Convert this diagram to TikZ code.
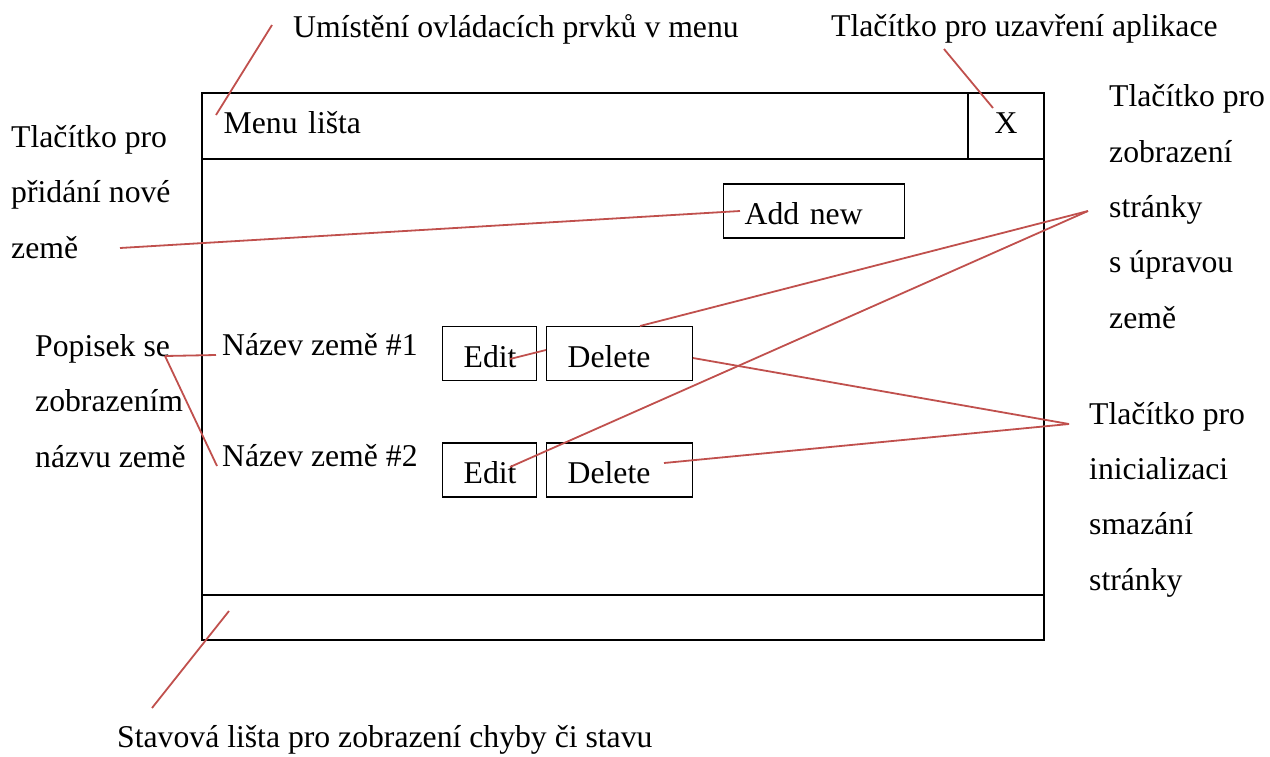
\documentclass[tikz,border=0pt]{standalone}
\usepackage{fontspec}
\setmainfont{Liberation Serif}
\definecolor{calloutred}{HTML}{C0504D}
\begin{document}
\begin{tikzpicture}[x=1pt,y=-1pt,
  every node/.style={font=\fontsize{31.7}{55.3}\selectfont, inner sep=0pt},
  lbl/.style={anchor=base west, align=left},
  frame/.style={draw, line width=1.4pt},
  btn/.style={frame, anchor=base west, inner xsep=21pt, inner ysep=0pt,
              text height=40.5pt, text depth=13.5pt, align=left},
  callout/.style={draw=calloutred, line width=1.8pt}]
\useasboundingbox (0,0) rectangle (1270,756);

% window
\node[frame, minimum width=842pt, minimum height=547pt] (win) at (623,366.5) {};
\node[frame, anchor=base west, inner xsep=21pt, text width=724pt,
      text height=40pt, text depth=26pt, align=left] (menu) at (202,133) {Menu lišta};
\node[frame, anchor=base, minimum width=76pt, text height=40pt, text depth=26pt] (close) at (1006,133) {X};
\node[frame, minimum width=842pt, minimum height=45pt] (status) at (623,617.5) {};

% buttons
\node[btn, text width=139pt] (addnew) at (723,224.5) {Add new};
\node[btn, text width=52pt] (edit1) at (442,367) {Edit};
\node[btn, text width=104pt] (del1) at (546,367) {Delete};
\node[btn, text width=52pt] (edit2) at (442,483.5) {Edit};
\node[btn, text width=104pt] (del2) at (546,483.5) {Delete};

% names
\node[lbl] (name1) at (222,355) {Název země \#1};
\node[lbl] (name2) at (222,466) {Název země \#2};

% labels (multi-line: anchor at baseline of last line)
\node[lbl] (ltop) at (293,37) {Umístění ovládacích prvků v menu};
\node[lbl] (lclose) at (831,36) {Tlačítko pro uzavření aplikace};
\node[lbl] (ledit) at (1109,328) {Tlačítko pro\\zobrazení\\stránky\\s úpravou\\země};
\node[lbl] (ldel) at (1089,590) {Tlačítko pro\\inicializaci\\smazání\\stránky};
\node[lbl] (ladd) at (11,258) {Tlačítko pro\\přidání nové\\země};
\node[lbl] (lname) at (35,467) {Popisek se\\zobrazením\\názvu země};
\node[lbl] (lstatus) at (117,747) {Stavová lišta pro zobrazení chyby či stavu};

% callout end points
\coordinate (ctop) at (272,25);
\coordinate (cmenu) at (216,115);
\coordinate (cclose) at (944,49);
\coordinate (cx) at (993,108);
\coordinate (cadd) at (120,248);
\coordinate (caddbtn) at (740,211);
\coordinate (cname) at (165,356);
\coordinate (cname1) at (216,355);
\coordinate (cname2) at (217,466);
\coordinate (cedit) at (1088,211);
\coordinate (cedit1) at (510,359);
\coordinate (cedit1b) at (546,350);
\coordinate (cdel1top) at (640,326);
\coordinate (cedit2) at (510,467);
\coordinate (cdel) at (1069,424);
\coordinate (cdel1) at (693,358);
\coordinate (cdel2) at (664,463);
\coordinate (cstat) at (229,611);
\coordinate (cstatl) at (152,708);

\path[callout] (ctop) -- (cmenu);
\path[callout] (cclose) -- (cx);
\path[callout] (cadd) -- (caddbtn);
\path[callout] (cname) -- (cname1);
\path[callout] (cname) -- (cname2);
\path[callout] (cedit1) -- (cedit1b);
\path[callout] (cedit) -- (cdel1top);
\path[callout] (cedit) -- (cedit2);
\path[callout] (cdel) -- (cdel1);
\path[callout] (cdel) -- (cdel2);
\path[callout] (cstat) -- (cstatl);
\end{tikzpicture}
\end{document}
